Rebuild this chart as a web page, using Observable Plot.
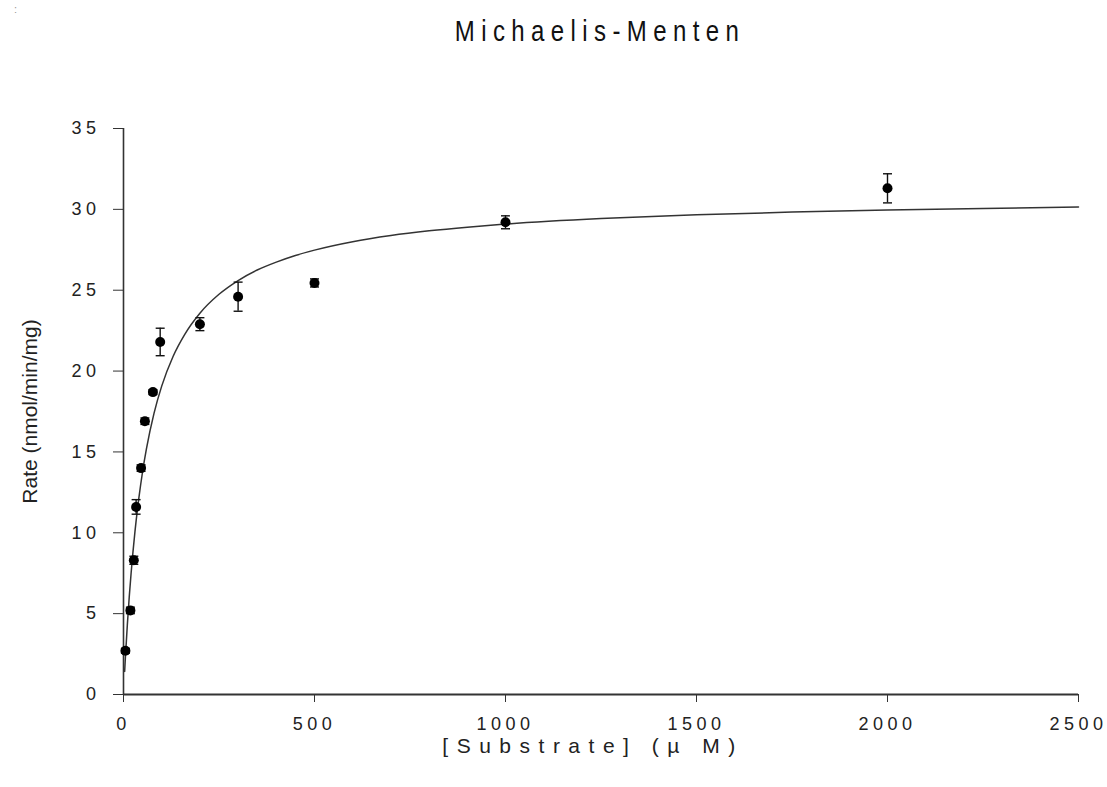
<!DOCTYPE html>
<html><head><meta charset="utf-8">
<script src="https://cdn.jsdelivr.net/npm/d3@7"></script>
<script src="https://cdn.jsdelivr.net/npm/@observablehq/plot@0.6"></script>
<style>
body{margin:0;background:#fff;}
#wrap{position:relative;width:1107px;height:787px;}
#title{position:absolute;top:16px;left:600px;transform:translateX(-50%) scaleX(0.8);font:30px 'Liberation Sans',Arial,sans-serif;letter-spacing:8px;line-height:30px;white-space:nowrap;color:#111;z-index:2;}
#mark{position:absolute;left:14px;top:3px;font:11px 'Liberation Sans',Arial,sans-serif;color:#999;z-index:2;}
</style></head><body>
<div id="wrap"><div id="mark">:</div><div id="title">Michaelis-Menten</div></div>
<script>
// Measured points: substrate (µM), rate, error
const substrate = [5, 18, 27, 33, 46, 56, 77, 96, 200, 300, 500, 1000, 2000];
const rate      = [2.7, 5.2, 8.3, 11.6, 14.0, 16.9, 18.7, 21.8, 22.9, 24.6, 25.45, 29.2, 31.3];
const rateError = [0.15, 0.2, 0.25, 0.45, 0.2, 0.2, 0.15, 0.85, 0.4, 0.9, 0.25, 0.4, 0.9];

// Fitted curve
const curveS = [3, 5, 10, 15, 20, 30, 40, 50, 60, 80, 100, 130, 160, 200, 250, 300, 350, 400, 450, 500, 600, 700, 800, 900, 1000, 1250, 1500, 1750, 2000, 2250, 2500];
const curveV = [1.43, 2.3, 4.29, 6.02, 7.53, 10.07, 12.11, 13.79, 15.19, 17.4, 19.07, 20.92, 22.26, 23.58, 24.75, 25.6, 26.25, 26.74, 27.15, 27.48, 28.0, 28.38, 28.67, 28.9, 29.09, 29.43, 29.66, 29.83, 29.96, 30.06, 30.14];

const xTicks = [0, 500, 1000, 1500, 2000, 2500];
const yTicks = [0, 5, 10, 15, 20, 25, 30, 35];
const xLabel = "[Substrate] (µ M)";
const yLabel = "Rate (nmol/min/mg)";

const points = substrate.map((s, i) => ({s, v: rate[i], lo: rate[i] - rateError[i], hi: rate[i] + rateError[i]}));
const curve = curveS.map((s, i) => ({s, v: curveV[i]}));
const capSymbol = {draw(ctx) { ctx.moveTo(-4.5, 0); ctx.lineTo(4.5, 0); }};

const chart = Plot.plot({
  width: 1107, height: 787,
  marginLeft: 123, marginRight: 29, marginTop: 128, marginBottom: 93,
  style: {fontFamily: "'Liberation Sans', Arial, sans-serif", fontSize: "18px", color: "#222", background: "white", overflow: "visible"},
  x: {domain: [0, 2500]},
  y: {domain: [0, 35]},
  marks: [
    Plot.axisX({ticks: xTicks, tickSize: 8, tickPadding: 15, label: null, tickFormat: d => String(d), stroke: "#333"}),
    Plot.axisY({ticks: yTicks, tickSize: 10, tickPadding: 13, label: null, tickFormat: d => String(d), stroke: "#333"}),
    Plot.ruleY([0], {stroke: "#333", strokeWidth: 2}),
    Plot.ruleX([0], {stroke: "#333", strokeWidth: 1.6}),
    Plot.line(curve, {x: "s", y: "v", stroke: "#333", strokeWidth: 1.5, curve: "monotone-x"}),
    Plot.ruleX(points, {x: "s", y1: "lo", y2: "hi", stroke: "#111", strokeWidth: 1.4}),
    Plot.dot(points, {x: "s", y: "lo", symbol: capSymbol, r: 3, stroke: "#111", strokeWidth: 1.4, fill: "none"}),
    Plot.dot(points, {x: "s", y: "hi", symbol: capSymbol, r: 3, stroke: "#111", strokeWidth: 1.4, fill: "none"}),
    Plot.dot(points, {x: "s", y: "v", r: 5, fill: "#000", stroke: "none"}),
    Plot.text([xLabel], {frameAnchor: "bottom", textAnchor: "middle", lineAnchor: "middle", dy: 52, dx: -8, fontSize: 21, fill: "#222"}),
    Plot.text([yLabel], {frameAnchor: "left", textAnchor: "middle", rotate: -90, dx: -93, fontSize: 21, fill: "#222"})
  ]
});
const svg = d3.select(chart);
svg.selectAll("text").style("letter-spacing", "4.5px");
svg.selectAll("text").filter(function() { return this.textContent === yLabel; }).style("letter-spacing", "0px");
svg.selectAll("text").filter(function() { return this.textContent === xLabel; }).style("letter-spacing", "8.5px");
chart.style.position = "absolute";
chart.style.left = "0";
chart.style.top = "0";
document.getElementById("wrap").prepend(chart);
</script>
</body></html>
